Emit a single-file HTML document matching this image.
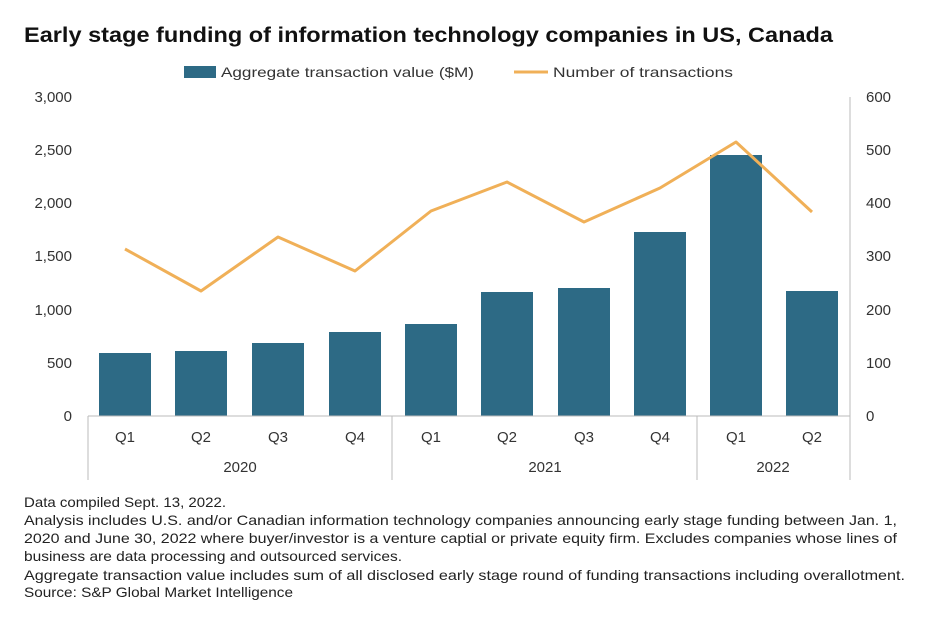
<!DOCTYPE html>
<html><head><meta charset="utf-8"><style>
body{margin:0;background:#fff;font-family:"Liberation Sans",sans-serif;}
</style></head><body>
<svg width="926" height="614" xmlns="http://www.w3.org/2000/svg" font-family="Liberation Sans, sans-serif">
<rect width="926" height="614" fill="#fff"/>
<text x="24" y="42" font-size="21" font-weight="bold" fill="#111" textLength="809" lengthAdjust="spacingAndGlyphs">Early stage funding of information technology companies in US, Canada</text>
<rect x="184" y="66" width="32" height="12" fill="#2d6a85"/>
<text x="221" y="77" font-size="14" fill="#333" textLength="253" lengthAdjust="spacingAndGlyphs">Aggregate transaction value ($M)</text>
<line x1="514" y1="72" x2="548" y2="72" stroke="#f0b058" stroke-width="3"/>
<text x="553" y="77" font-size="14" fill="#333" textLength="180" lengthAdjust="spacingAndGlyphs">Number of transactions</text>
<g font-size="15" fill="#333" text-anchor="end">
<text x="72" y="102">3,000</text><text x="72" y="155">2,500</text><text x="72" y="208">2,000</text>
<text x="72" y="261">1,500</text><text x="72" y="315">1,000</text><text x="72" y="368">500</text><text x="72" y="421">0</text>
</g>
<g font-size="15" fill="#333" text-anchor="start">
<text x="866" y="102">600</text><text x="866" y="155">500</text><text x="866" y="208">400</text>
<text x="866" y="261">300</text><text x="866" y="315">200</text><text x="866" y="368">100</text><text x="866" y="421">0</text>
</g>
<line x1="850" y1="97" x2="850" y2="416" stroke="#bbb"/>
<g fill="#2d6a85">
<rect x="99" y="353" width="52" height="63"/>
<rect x="175" y="351" width="52" height="65"/>
<rect x="252" y="343" width="52" height="73"/>
<rect x="329" y="332" width="52" height="84"/>
<rect x="405" y="324" width="52" height="92"/>
<rect x="481" y="292" width="52" height="124"/>
<rect x="558" y="288" width="52" height="128"/>
<rect x="634" y="232" width="52" height="184"/>
<rect x="710" y="155" width="52" height="261"/>
<rect x="786" y="291" width="52" height="125"/>
</g>
<polyline fill="none" stroke="#f0b058" stroke-width="3" stroke-linejoin="round" points="125,249 201,291 278,237 355,271 431,211 507,182 584,222 660,188 736,142 812,212"/>
<line x1="88" y1="416" x2="850" y2="416" stroke="#bbb"/>
<g stroke="#bbb"><line x1="88" y1="416" x2="88" y2="480"/><line x1="392" y1="416" x2="392" y2="480"/><line x1="697" y1="416" x2="697" y2="480"/><line x1="850" y1="416" x2="850" y2="480"/></g>
<g font-size="15" fill="#333" text-anchor="middle">
<text x="125" y="442">Q1</text><text x="201" y="442">Q2</text><text x="278" y="442">Q3</text><text x="355" y="442">Q4</text>
<text x="431" y="442">Q1</text><text x="507" y="442">Q2</text><text x="584" y="442">Q3</text><text x="660" y="442">Q4</text>
<text x="736" y="442">Q1</text><text x="812" y="442">Q2</text>
<text x="240" y="472">2020</text><text x="545" y="472">2021</text><text x="773" y="472">2022</text>
</g>
<g font-size="14" fill="#222" lengthAdjust="spacingAndGlyphs">
<text x="24" y="507" textLength="202" lengthAdjust="spacingAndGlyphs">Data compiled Sept. 13, 2022.</text>
<text x="24" y="525" textLength="873" lengthAdjust="spacingAndGlyphs">Analysis includes U.S. and/or Canadian information technology companies announcing early stage funding between Jan. 1,</text>
<text x="24" y="543" textLength="873" lengthAdjust="spacingAndGlyphs">2020 and June 30, 2022 where buyer/investor is a venture captial or private equity firm. Excludes companies whose lines of</text>
<text x="24" y="561" textLength="378" lengthAdjust="spacingAndGlyphs">business are data processing and outsourced services.</text>
<text x="24" y="580" textLength="881" lengthAdjust="spacingAndGlyphs">Aggregate transaction value includes sum of all disclosed early stage round of funding transactions including overallotment.</text>
<text x="24" y="597" textLength="269" lengthAdjust="spacingAndGlyphs">Source: S&amp;P Global Market Intelligence</text>
</g>
</svg>
</body></html>
